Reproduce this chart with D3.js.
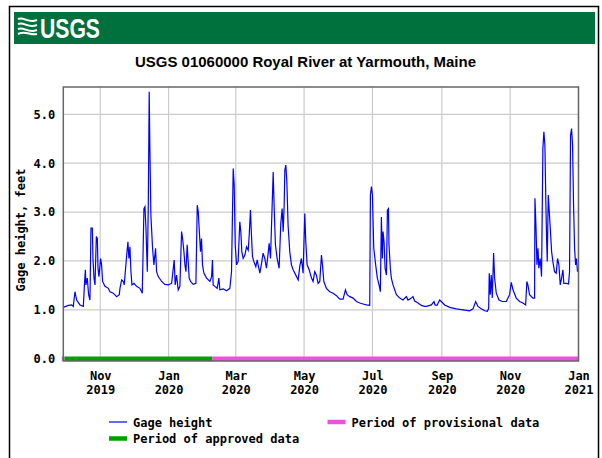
<!DOCTYPE html>
<html><head><meta charset="utf-8">
<script src="https://cdn.jsdelivr.net/npm/d3@7"></script>
<style>html,body{margin:0;padding:0;background:#fff;}svg{display:block;}</style>
</head><body>
<svg id="c" width="602" height="458"></svg>
<script>
// ---- data ----
const title = "USGS 01060000 Royal River at Yarmouth, Maine";
const startDate = "2019-09-29";
const endDate = "2021-01-01";
// days since start date
const days = [0,4.5,7.5,8.9,10.4,11.9,14.9,17.9,18.8,19.7,20.2,21.4,22.6,23.8,24.7,25.9,26.5,27.4,28.3,29.5,30.4,31.0,31.8,33.3,34.2,35.1,37.2,40.2,41.7,44.6,47.6,50.0,50.6,52.1,53.6,54.4,56.5,57.7,58.6,59.5,60.4,61.3,63.1,65.4,68.4,70.5,72.0,72.9,73.8,75.0,75.9,76.7,77.3,78.2,79.7,80.9,82.4,83.3,84.8,87.8,90.7,93.7,96.7,99.0,99.9,101.1,102.6,104.1,
105.6,106.5,107.7,108.6,109.5,110.6,111.5,112.4,113.6,116.0,118.4,119.6,120.5,121.3,122.5,123.4,124.3,125.5,127.9,130.9,132.4,133.2,133.8,135.3,137.4,138.9,139.8,142.8,145.7,148.7,150.2,151.7,152.6,153.5,154.7,156.1,157.6,158.5,159.4,160.6,162.1,163.6,165.1,166.0,167.1,168.0,168.9,170.1,171.9,173.1,174.3,175.5,177.0,178.4,179.9,181.4,182.9,183.8,185.0,186.2,187.4,188.3,189.4,190.9,192.7,194.2,195.4,196.3,197.2,197.8,198.7,199.6,200.7,202.2,203.7,205.2,207.6,209.7,211.2,212.6,214.1,215.6,
216.5,217.7,219.5,221.6,223.0,224.5,226.0,227.5,229.0,230.5,231.4,232.6,234.9,237.9,240.9,243.9,246.8,249.8,251.9,253.4,255.8,258.7,261.7,264.7,267.6,270.6,273.6,274.2,275.1,276.0,277.2,278.9,280.4,281.9,283.1,284.0,284.9,285.5,286.4,287.3,288.5,289.4,290.3,290.8,292.0,292.9,294.4,297.4,300.4,303.3,306.3,307.8,310.8,312.2,313.7,316.7,319.7,322.7,
324.2,328.6,331.0,331.9,333.7,336.0,337.5,340.5,345.0,350.9,356.9,362.8,365.8,368.2,370.2,373.2,376.2,378.6,379.8,380.3,381.2,382.1,383.0,384.2,385.1,386.6,389.0,391.9,395.5,397.0,398.5,400.0,401.5,404.4,407.4,410.4,412.8,413.9,414.8,416.3,419.3,420.8,421.1,422.0,422.9,423.8,424.6,425.8,427.0,428.2,429.1,430.0,430.9,431.5,432.1,433.0,433.9,434.8,436.0,437.1,438.6,440.1,441.3,442.5,443.7,444.6,446.1,446.9,449.0,451.1,452.0,452.9,453.8,454.7,455.6,456.5,457.4,458.2,459.1];
const gage = [1.05,1.09,1.10,1.07,1.37,1.20,1.10,1.07,1.48,1.82,1.51,1.65,1.31,1.20,2.67,2.67,2.05,1.65,1.51,2.50,2.46,1.85,1.68,2.05,1.92,1.58,1.48,1.44,1.37,1.34,1.27,1.31,1.44,1.61,1.58,1.51,2.09,2.39,2.05,2.29,1.78,1.51,1.54,1.48,1.44,1.34,3.07,3.11,2.67,1.78,3.18,5.46,4.33,2.94,2.26,1.92,2.26,1.78,1.68,1.58,1.52,1.51,1.54,2.02,1.51,1.71,1.41,1.48,
2.60,2.46,2.19,1.92,1.78,2.33,1.99,1.65,1.58,1.52,1.54,3.14,3.01,2.67,2.19,2.46,1.92,1.75,1.65,1.58,1.68,2.02,1.51,1.48,1.44,1.65,1.41,1.43,1.39,1.44,1.78,3.89,3.55,2.33,1.92,1.99,2.80,2.60,2.19,2.05,2.12,2.29,2.22,2.53,3.04,2.53,2.09,1.99,1.88,2.02,1.88,1.75,1.95,2.16,2.05,1.85,2.16,2.36,2.05,2.94,3.82,3.07,2.33,2.05,1.85,2.77,3.07,2.60,3.14,3.86,3.96,3.62,2.73,2.19,1.92,1.82,1.71,1.61,1.90,2.05,1.75,2.97,
2.39,1.92,1.82,1.65,1.58,1.78,1.71,1.54,1.58,2.12,1.92,1.58,1.44,1.37,1.34,1.29,1.22,1.22,1.41,1.31,1.27,1.24,1.17,1.14,1.12,1.10,1.09,3.35,3.52,3.35,2.26,1.92,1.65,1.51,1.37,2.90,2.05,2.60,2.39,1.85,1.71,3.04,3.07,2.33,1.85,1.65,1.51,1.31,1.24,1.20,1.27,1.20,1.24,1.27,1.18,1.14,1.09,1.07,
1.07,1.10,1.17,1.10,1.09,1.20,1.17,1.10,1.05,1.02,1.00,0.98,1.02,1.17,1.07,1.02,0.98,0.97,1.03,1.75,1.31,1.71,1.24,2.16,1.65,1.34,1.20,1.17,1.17,1.24,1.31,1.56,1.41,1.24,1.17,1.14,1.10,1.58,1.51,1.31,1.24,1.24,3.28,2.73,1.92,2.26,1.85,2.05,1.68,4.30,4.64,4.37,3.14,2.46,1.99,3.35,3.01,2.67,2.19,1.99,1.78,1.75,2.05,1.92,1.51,1.61,1.82,1.54,1.54,1.53,1.78,4.57,4.71,4.37,3.14,2.26,1.92,2.05,1.78];
// approval periods (days since start)
const periodStart = [0, 1, 133];
const periodEnd   = [1, 133, 460];
const periodKind  = ["provisional", "approved", "provisional"];
const yTicks = [0, 1, 2, 3, 4, 5];
const monthNames = ["Jan","Feb","Mar","Apr","May","Jun","Jul","Aug","Sep","Oct","Nov","Dec"];
const legendLabels = ["Gage height", "Period of approved data", "Period of provisional data"];

// ---- drawing ----
const svg = d3.select("#c");
const parse = d3.utcParse("%Y-%m-%d");
const t0 = parse(startDate), t1 = parse(endDate);
const dayToDate = d => new Date(t0.getTime() + d * 86400000);

const L = 63.3, R = 578.5, T = 87, B = 361;
const x = d3.scaleUtc().domain([t0, t1]).range([L, R]);
const y = d3.scaleLinear().domain([0, 5]).range([358.7, 114.3]);

const mono = "'DejaVu Sans Mono', monospace";
const colBlue = "#0000ff", colGreen = "#00a000", colPink = "#f24ee0";

// frame
svg.append("rect").attr("x",0).attr("y",0).attr("width",602).attr("height",458).attr("fill","#fff");
svg.append("path").attr("d","M9.5,458 V6.5 H598.5 V458").attr("fill","none").attr("stroke","#000").attr("stroke-width",1.5);

// banner
svg.append("rect").attr("x",14).attr("y",12).attr("width",581).attr("height",32).attr("fill","#00703c");
const logo = svg.append("g").attr("fill","none").attr("stroke","#fff").attr("stroke-width",2);
[0,5,10].forEach(o=>{
  logo.append("path").attr("d",`M18,${19+o} C24,${16+o} 28,${24+o} 37,${20+o}`);
});
logo.append("path").attr("d","M18,34 C26,30 30,36 37,34").attr("stroke-width",2);
svg.append("text").attr("x",40).attr("y",37.5).attr("font-family","'Liberation Sans', Arial, sans-serif")
  .attr("font-weight","bold").attr("font-size",28).attr("fill","#fff")
  .attr("textLength",60).attr("lengthAdjust","spacingAndGlyphs").text("USGS");

// title
svg.append("text").attr("x",135).attr("y",67).attr("font-family","'Liberation Sans', Arial, sans-serif")
  .attr("font-weight","bold").attr("font-size",15.5).attr("fill","#000")
  .attr("textLength",341).attr("lengthAdjust","spacingAndGlyphs").text(title);

// grid
const grid = svg.append("g").attr("stroke","#cccccc").attr("stroke-width",1.2);
yTicks.filter(v=>v>0).forEach(v=>{
  grid.append("line").attr("x1",L).attr("x2",R).attr("y1",y(v)).attr("y2",y(v));
});
const xTickDates = x.ticks(d3.utcMonth.every(2));
xTickDates.forEach(d=>{
  grid.append("line").attr("x1",x(d)).attr("x2",x(d)).attr("y1",T).attr("y2",B);
});

// periods bar
const bar = svg.append("g");
periodStart.forEach((s,i)=>{
  bar.append("line").attr("x1",x(dayToDate(s)) - (i===0?1.5:0)).attr("x2",x(dayToDate(periodEnd[i])))
    .attr("y1",y(0)).attr("y2",y(0))
    .attr("stroke", periodKind[i]==="approved"?colGreen:colPink).attr("stroke-width",4.5);
});

// line
svg.append("clipPath").attr("id","clip").append("rect").attr("x",L).attr("y",T).attr("width",R-L).attr("height",B-T);
const pts = days.map((d,i)=>[dayToDate(d), gage[i]]);
svg.append("path").datum(pts).attr("clip-path","url(#clip)")
  .attr("fill","none").attr("stroke",colBlue).attr("stroke-width",1.2).attr("stroke-linejoin","miter")
  .attr("d", d3.line().x(p=>x(p[0])).y(p=>y(p[1])));

// plot border
svg.append("rect").attr("x",L).attr("y",T).attr("width",R-L).attr("height",B-T)
  .attr("fill","none").attr("stroke","#666").attr("stroke-width",1.5);

// y axis
const yAxis = svg.append("g").attr("transform",`translate(${L},0)`)
  .call(d3.axisLeft(y).tickValues(yTicks).tickSize(0).tickPadding(8).tickFormat(d3.format(".1f")));
yAxis.select(".domain").remove();
yAxis.selectAll("text").attr("font-family",mono).attr("font-weight","bold").attr("font-size",12).attr("fill","#000");

// x axis
const xAxis = svg.append("g").attr("transform",`translate(0,${B})`)
  .call(d3.axisBottom(x).tickValues(xTickDates).tickSize(0).tickFormat(""));
xAxis.select(".domain").remove();
xAxis.selectAll(".tick").each(function(d){
  const t = d3.select(this).append("text").attr("font-family",mono).attr("font-weight","bold")
    .attr("font-size",12).attr("fill","#000").attr("text-anchor","middle");
  t.append("tspan").attr("x",0).attr("y",19).text(monthNames[d.getUTCMonth()]);
  t.append("tspan").attr("x",0).attr("y",33).text(d.getUTCFullYear());
});

// y label
svg.append("text").attr("transform","translate(25,230) rotate(-90)").attr("text-anchor","middle")
  .attr("font-family",mono).attr("font-weight","bold").attr("font-size",12).attr("fill","#000")
  .text("Gage height, feet");

// legend
const leg = svg.append("g").attr("font-family",mono).attr("font-weight","bold").attr("font-size",12).attr("fill","#000");
const legItems = [
  {x:109, y:422, color:colBlue, w:1.2, label:legendLabels[0]},
  {x:109, y:438.5, color:colGreen, w:4.5, label:legendLabels[1]},
  {x:327.5, y:422, color:colPink, w:4.5, label:legendLabels[2]}
];
legItems.forEach(it=>{
  leg.append("line").attr("x1",it.x).attr("x2",it.x+18).attr("y1",it.y).attr("y2",it.y)
    .attr("stroke",it.color).attr("stroke-width",it.w);
  leg.append("text").attr("x",it.x+24).attr("y",it.y+4.5).text(it.label);
});
</script>
</body></html>
